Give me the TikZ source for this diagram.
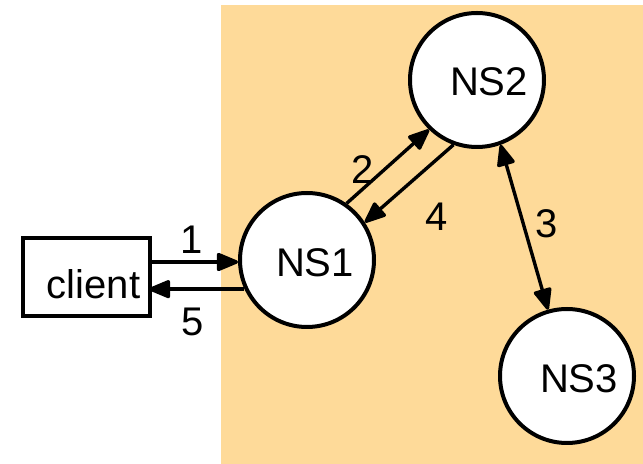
\documentclass[tikz,border=0pt]{standalone}
\usepackage{fontspec}
\setmainfont{Liberation Sans}
\usetikzlibrary{arrows.meta}
\definecolor{myorange}{RGB}{254,218,153}

\begin{document}
\begin{tikzpicture}[x=0.5pt, y=-0.5pt,
    every node/.style={font=\fontsize{20}{24}\selectfont},
    server/.style={circle, draw, line width=2pt, fill=white, minimum size=67pt, inner sep=0pt},
    host/.style={rectangle, draw, line width=2pt, fill=white, minimum width=63.5pt, minimum height=39pt, inner sep=0pt},
    msg/.style={-{Triangle[length=12pt, width=9.5pt, round]}, line width=1.7pt},
    twomsg/.style={{Triangle[length=12pt, width=9.5pt, round]}-{Triangle[length=12pt, width=9.5pt, round]}, line width=1.7pt}]
    \useasboundingbox (0,0) rectangle (643,464);

    % Zone
    \fill[myorange] (221,5) rectangle (643,464);

    % Client and name servers
    \node[host, label={[name=clienttext, xshift=3.5pt, yshift=-3.5pt]center:client}] (client) at (86.5,277) {};
    \node[server, label={[name=NS1text, xshift=4pt, yshift=-1.5pt]center:NS1}] (NS1) at (307,260) {};
    \node[server, label={[name=NS2text, xshift=6pt, yshift=-1pt]center:NS2}] (NS2) at (477,80) {};
    \node[server, label={[name=NS3text, xshift=6pt, yshift=-1.5pt]center:NS3}] (NS3) at (567,376) {};

    % Queries and answers
    \draw[msg] ([xshift=-1.5pt, yshift=-1pt]client.east |- NS1.west) -- ([yshift=-1pt]NS1.west);
    \draw[msg] (NS1.55) -- (NS2.226);
    \draw[twomsg] (NS2.290) -- (NS3.106);
    \draw[msg] (NS2.250) -- (NS1.33);
    \draw[msg] (NS1.205) -- ([xshift=-1.5pt]client.east |- NS1.205);

    % Step numbers
    \node (step1) at (192,240) {1};
    \node (step2) at (363,170) {2};
    \node (step3) at (547,224) {3};
    \node (step4) at (437,217) {4};
    \node (step5) at (193,322) {5};
\end{tikzpicture}
\end{document}
